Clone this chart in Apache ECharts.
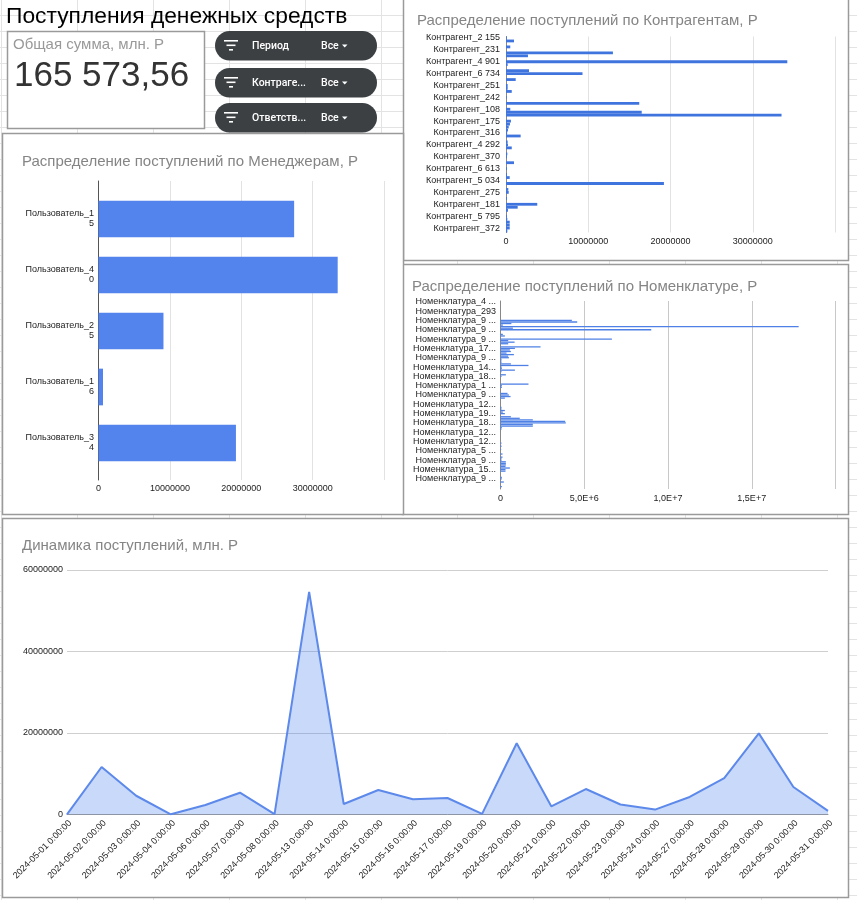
<!DOCTYPE html>
<html><head><meta charset="utf-8">
<style>
html,body{margin:0;padding:0;background-color:#fff;}
#bg{position:absolute;left:0;top:0;width:857px;height:900px;
background-image:linear-gradient(to right,transparent 75px,#e3e3e3 75px,#e3e3e3 76px),linear-gradient(to bottom,transparent 15px,#e3e3e3 15px,#e3e3e3 16px);
background-size:76px 100%,100% 16px;background-position:2px 0,0 0;}
#c{position:absolute;left:0;top:0;width:857px;height:900px;}
</style>
<script src="https://cdn.jsdelivr.net/npm/echarts@6/dist/echarts.min.js"></script>
</head><body><div id="bg"></div><div id="c"></div>
<script>
const pageTitle = 'Поступления денежных средств';
const kpiTitle = 'Общая сумма, млн. Р';
const kpiValue = '165 573,56';
const filterNames = ['Период','Контраге...','Ответств...'];
const filterValue = 'Все';

const managerTitle = 'Распределение поступлений по Менеджерам, Р';
const managerNames = ['Пользователь_15','Пользователь_40','Пользователь_25','Пользователь_16','Пользователь_34'];
const managerValues = [27400000,33500000,9100000,630000,19250000];

const contragentTitle = 'Распределение поступлений по Контрагентам, Р';
const contragentLabels = ['Контрагент_2 155','Контрагент_231','Контрагент_4 901','Контрагент_6 734','Контрагент_251','Контрагент_242','Контрагент_108','Контрагент_175','Контрагент_316','Контрагент_4 292','Контрагент_370','Контрагент_6 613','Контрагент_5 034','Контрагент_275','Контрагент_181','Контрагент_5 795','Контрагент_372'];
const contragentValues = [100000,970000,0,520000,0,13000000,2670000,0,34200000,200000,0,2800000,9300000,0,1180000,0,200000,200000,700000,0,80000,0,16200000,0,520000,16500000,33500000,0,600000,480000,330000,240000,140000,1780000,0,200000,240000,700000,0,160000,120000,0,970000,0,120000,0,120000,450000,0,19200000,0,280000,330000,0,120000,0,3800000,1420000,240000,0,120000,160000,450000,450000,450000,160000];

const nomenTitle = 'Распределение поступлений по Номенклатуре, Р';
const nomenLabels = ['Номенклатура_4 ...','Номенклатура_293','Номенклатура_9 ...','Номенклатура_9 ...','Номенклатура_9 ...','Номенклатура_17...','Номенклатура_9 ...','Номенклатура_14...','Номенклатура_18...','Номенклатура_1 ...','Номенклатура_9 ...','Номенклатура_12...','Номенклатура_19...','Номенклатура_18...','Номенклатура_12...','Номенклатура_12...','Номенклатура_5 ...','Номенклатура_9 ...','Номенклатура_15...','Номенклатура_9 ...'];
const nomenValues = [0,0,0,0,0,0,0,0,0,0,0,0,4260000,4580000,650000,140000,17800000,740000,9000000,0,0,140000,260000,0,6650000,460000,840000,460000,0,2390000,860000,560000,620000,360000,800000,460000,500000,60000,60000,60000,620000,1670000,80000,80000,860000,60000,0,320000,60000,0,0,0,0,1670000,80000,80000,0,0,0,420000,500000,600000,260000,0,0,0,0,0,60000,60000,260000,140000,260000,0,620000,1150000,1930000,3860000,3900000,1930000,1930000,80000,60000,0,0,0,0,0,0,0,0,60000,0,60000,0,40000,0,0,120000,0,120000,60000,60000,320000,320000,320000,300000,560000,300000,300000,0,0,0,80000,80000,0,200000,0,0,80000,0];

const lineTitle = 'Динамика поступлений, млн. Р';
const lineDates = ['2024-05-01 0:00:00','2024-05-02 0:00:00','2024-05-03 0:00:00','2024-05-04 0:00:00','2024-05-06 0:00:00','2024-05-07 0:00:00','2024-05-08 0:00:00','2024-05-13 0:00:00','2024-05-14 0:00:00','2024-05-15 0:00:00','2024-05-16 0:00:00','2024-05-17 0:00:00','2024-05-19 0:00:00','2024-05-20 0:00:00','2024-05-21 0:00:00','2024-05-22 0:00:00','2024-05-23 0:00:00','2024-05-24 0:00:00','2024-05-27 0:00:00','2024-05-28 0:00:00','2024-05-29 0:00:00','2024-05-30 0:00:00','2024-05-31 0:00:00'];
const lineValues = [50000,11660000,4600000,50000,2330000,5350000,100000,54600000,2580000,6000000,3730000,4050000,150000,17500000,2000000,6250000,2450000,1200000,4300000,8950000,19900000,6750000,900000];

const FONT = '"Liberation Sans", Arial, sans-serif';
const BLUE = '#5383ec';
const DARKBLUE = '#3f74de';
const BORDER = '#9a9a9a';
const TITLE = '#858585';
const plain = v => String(v);
const hideLast = max => v => v >= max ? '' : String(v);

function panel(x,y,w,h){return {type:'rect',z:-10,shape:{x:x+.5,y:y+.5,width:w,height:h},style:{fill:'#fff',stroke:BORDER,lineWidth:1.5}};}
function text(x,y,t,size,color){return {type:'text',z:5,x:x,y:y,style:{text:t,fontFamily:FONT,fontSize:size,fill:color,textVerticalAlign:'middle'}};}
function pill(y,name){
  const font={fontFamily:'Roboto, sans-serif',fontWeight:500};
  return [
    {type:'rect',z:1,shape:{x:215,y:y,width:162,height:29.5,r:14.7},style:{fill:'#3c4043'}},
    {type:'rect',z:2,shape:{x:224,y:y+9,width:14,height:1.6},style:{fill:'#fff'}},
    {type:'rect',z:2,shape:{x:226.5,y:y+13.5,width:9,height:1.6},style:{fill:'#fff'}},
    {type:'rect',z:2,shape:{x:229,y:y+18,width:4,height:1.6},style:{fill:'#fff'}},
    {type:'text',z:3,x:252,y:y+15.5,style:Object.assign({text:name,fontSize:10.5,fill:'#fff',textVerticalAlign:'middle'},font)},
    {type:'text',z:3,x:321,y:y+15.5,style:Object.assign({text:filterValue,fontSize:10.5,fill:'#fff',textVerticalAlign:'middle'},font)},
    {type:'polygon',z:3,shape:{points:[[342,y+13.5],[347.5,y+13.5],[344.7,y+16.5]]},style:{fill:'#fff'}}
  ];
}

const chart = echarts.init(document.getElementById('c'),null,{renderer:'canvas'});
const axisFont = {fontFamily:FONT,fontSize:9,color:'#222'};
const sparse = (labels,step,n)=>Array.from({length:n},(_,i)=> i%step===0 ? (labels[i/step]||'') : '');

chart.setOption({
  animation:false,
  backgroundColor:'transparent',
  graphic:{elements:[
    panel(403,-2,445,262),
    panel(402,264,446,250),
    panel(7,31,197,97),
    panel(2,133,401,381),
    panel(2,518,846,379),
    text(6,17,pageTitle,22.8,'#000'),
    text(13,45,kpiTitle,15,'#999'),
    text(14,76,kpiValue,35,'#333'),
    text(22,161.5,managerTitle,15,TITLE),
    text(417,20.5,contragentTitle,15,TITLE),
    text(412,286.5,nomenTitle,15,TITLE),
    text(22,545.5,lineTitle,15,TITLE),
    ...pill(31,filterNames[0]),...pill(68,filterNames[1]),...pill(103,filterNames[2])
  ]},
  grid:[
    {left:98.5,top:181,width:285.6,height:299},
    {left:98.5,top:191,width:285.6,height:280},
    {left:506,top:36.5,width:329,height:196},
    {left:500.5,top:301,width:335,height:188},
    {left:67,top:570,width:761,height:244.5}
  ],
  xAxis:[
    {gridIndex:0,type:'value',min:0,max:40000000,interval:10000000,axisLine:{show:false},axisTick:{show:false},
      splitLine:{lineStyle:{color:'#e2e2e2'}},axisLabel:Object.assign({},axisFont,{margin:4,formatter:hideLast(40000000)})},
    {gridIndex:1,type:'value',min:0,max:40000000,show:false,splitLine:{show:false}},
    {gridIndex:2,type:'value',min:0,max:40000000,interval:10000000,axisLine:{show:false},axisTick:{show:false},
      splitLine:{lineStyle:{color:'#e2e2e2'}},axisLabel:Object.assign({},axisFont,{margin:5,formatter:hideLast(40000000)})},
    {gridIndex:3,type:'value',min:0,max:20000000,interval:5000000,axisLine:{show:false},axisTick:{show:false},
      splitLine:{lineStyle:{color:'#c8c8c8'}},
      axisLabel:Object.assign({},axisFont,{margin:5,formatter:v=>({0:'0',5000000:'5,0E+6',10000000:'1,0E+7',15000000:'1,5E+7'})[v]||''})},
    {gridIndex:4,type:'category',data:lineDates,boundaryGap:false,axisTick:{show:false},
      axisLine:{lineStyle:{color:'#999',width:1}},
      axisLabel:Object.assign({},axisFont,{interval:0,rotate:45,margin:4,verticalAlign:'top'})}
  ],
  yAxis:[
    {gridIndex:0,type:'value',min:0,max:1,axisLine:{show:true,onZero:false,lineStyle:{color:'#555'}},axisTick:{show:false},axisLabel:{show:false},splitLine:{show:false}},
    {gridIndex:1,type:'category',inverse:true,data:managerNames,axisLine:{show:false},axisTick:{show:false},
      axisLabel:Object.assign({},axisFont,{margin:4.5,lineHeight:10,align:'right',interval:0,formatter:s=>s.slice(0,14)+'\n'+s.slice(14)})},
    {gridIndex:2,type:'category',inverse:true,data:sparse(contragentLabels,4,contragentValues.length),axisLine:{show:true,lineStyle:{color:'#888'}},axisTick:{show:false},
      axisLabel:Object.assign({},axisFont,{interval:3,margin:6,showMinLabel:true})},
    {gridIndex:3,type:'category',inverse:true,data:sparse(nomenLabels,6,nomenValues.length),axisLine:{show:true,lineStyle:{color:'#888'}},axisTick:{show:false},
      axisLabel:Object.assign({},axisFont,{interval:5,margin:4.5,showMinLabel:true,hideOverlap:false})},
    {gridIndex:4,type:'value',min:0,max:60000000,interval:20000000,axisLine:{show:false},axisTick:{show:false},
      splitLine:{lineStyle:{color:'#cfcfcf'}},axisLabel:Object.assign({},axisFont,{margin:4,formatter:plain})}
  ],
  series:[
    {type:'bar',xAxisIndex:1,yAxisIndex:1,data:managerValues,barWidth:36.7,itemStyle:{color:BLUE},silent:true},
    {type:'bar',xAxisIndex:2,yAxisIndex:2,data:contragentValues,barWidth:2.8,itemStyle:{color:DARKBLUE},silent:true},
    {type:'bar',xAxisIndex:3,yAxisIndex:3,data:nomenValues,barWidth:1.3,itemStyle:{color:'#4f80e6'},silent:true},
    {type:'line',xAxisIndex:4,yAxisIndex:4,data:lineValues,symbol:'none',smooth:false,
      lineStyle:{color:'#5d89ea',width:2},areaStyle:{color:'#4a80ec',opacity:.3},silent:true}
  ]
});
</script></body></html>
